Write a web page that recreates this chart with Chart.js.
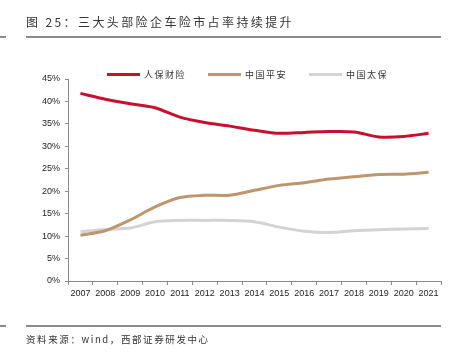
<!DOCTYPE html>
<html>
<head>
<meta charset="utf-8">
<script src="https://cdn.jsdelivr.net/npm/chart.js@4.4.1/dist/chart.umd.min.js"></script>
<style>
  html, body { margin:0; padding:0; background:#fff; }
  body { width:460px; height:357px; position:relative; overflow:hidden; font-family:"Noto Sans CJK SC", sans-serif; }
  #c { position:absolute; left:0; top:0; }
  .title { position:absolute; left:26px; top:13px; font-size:12px; color:#333; letter-spacing:2.4px; white-space:nowrap; }
  .hr { position:absolute; height:1.5px; background:#8a8a8a; }
  .foot { position:absolute; left:26px; top:332px; font-size:9.5px; color:#333; letter-spacing:1.6px; white-space:nowrap; }
  .leg { position:absolute; top:68px; font-size:9px; color:#333; letter-spacing:1.5px; white-space:nowrap; display:flex; align-items:center; }
  .leg span.sw { display:inline-block; width:33px; height:3px; margin-right:4px; }
</style>
</head>
<body>
<canvas id="c" width="460" height="357"></canvas>
<div class="title">图 25：三大头部险企车险市占率持续提升</div>
<div class="hr" style="left:0;top:36px;width:6px"></div>
<div class="hr" style="left:26px;top:36px;width:415px"></div>
<div class="hr" style="left:0;top:325px;width:6px"></div>
<div class="hr" style="left:26px;top:325px;width:415px"></div>
<div class="foot">资料来源：wind，西部证券研发中心</div>
<div id="legend"></div>
<script>
const years = ["2007","2008","2009","2010","2011","2012","2013","2014","2015","2016","2017","2018","2019","2020","2021"];
const seriesNames = ["人保财险","中国平安","中国太保"];
const picc  = [41.8,40.5,39.5,38.6,36.5,35.3,34.5,33.6,32.9,33.1,33.3,33.2,32.1,32.2,32.9];
const pingan= [10.2,11.2,13.6,16.5,18.6,19.1,19.1,20.2,21.3,21.9,22.7,23.2,23.7,23.8,24.2];
const cpic  = [11.0,11.5,11.8,13.2,13.5,13.5,13.5,13.2,12.0,11.1,10.8,11.2,11.4,11.6,11.7];
const colors = ["#C8102E","#BE966E","#D3D3D3"];
const yTicks = [0,5,10,15,20,25,30,35,40,45];

// HTML legend
const legLefts = [107,208,309];
const legend = document.getElementById('legend');
seriesNames.forEach((n,i)=>{
  const d = document.createElement('div');
  d.className='leg'; d.style.left = legLefts[i]+'px';
  d.innerHTML = '<span class="sw" style="background:'+colors[i]+'"></span>'+n;
  legend.appendChild(d);
});

const tickFont = {family:"'Liberation Sans', Arial, sans-serif", size:9};
new Chart(document.getElementById('c'), {
  type:'line',
  data:{
    labels: years,
    datasets: [picc,pingan,cpic].map((d,i)=>({
      label: seriesNames[i], data: d, borderColor: colors[i], backgroundColor: colors[i],
      borderWidth: 3, pointRadius: 0, tension: 0.3, fill:false
    }))
  },
  options:{
    responsive:false, animation:false, devicePixelRatio:1,
    layout:{padding:{left:0,right:19,top:79,bottom:0}},
    plugins:{legend:{display:false}, tooltip:{enabled:false}},
    scales:{
      x:{
        offset:true,
        grid:{display:true, drawOnChartArea:false, offset:true, tickLength:4, color:'#888'},
        border:{display:true, color:'#888', width:1},
        ticks:{font:tickFont, color:'#222', maxRotation:0, autoSkip:false, padding:3},
        afterFit:(s)=>{s.height = 357-281;}
      },
      y:{
        min:0, max:45,
        afterBuildTicks:(s)=>{s.ticks = yTicks.map(v=>({value:v}));},
        grid:{display:true, drawOnChartArea:false, tickLength:3, color:'#888'},
        border:{display:true, color:'#888', width:1},
        ticks:{font:tickFont, color:'#222', padding:5, callback:(v)=>v+'%'},
        afterFit:(s)=>{s.width = 68;}
      }
    }
  }
});
</script>
</body>
</html>
